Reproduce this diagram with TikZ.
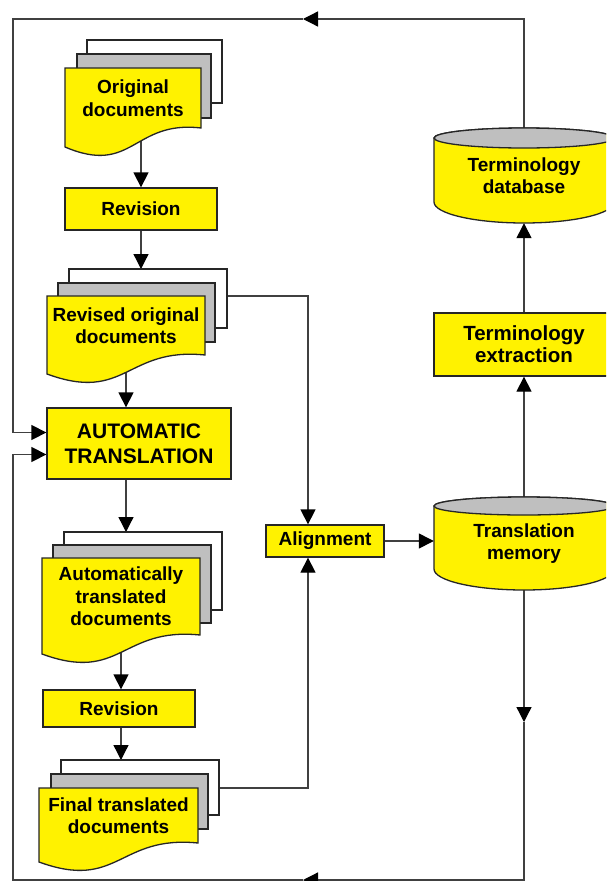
\documentclass[tikz,border=0pt]{standalone}
\usepackage{fontspec}
\setmainfont{Liberation Sans}
\usetikzlibrary{arrows.meta}

\pgfdeclarelayer{bg}
\pgfdeclarelayer{lines}
\pgfsetlayers{bg,lines,main}

\tikzset{
  outline/.style={draw=black!85, line width=1.3pt},
  txt/.style={font=\bfseries\fontsize{19}{22.5}\selectfont, align=center, inner sep=0pt},
  bigtxt/.style={font=\bfseries\fontsize{21}{25}\selectfont, align=center, inner sep=0pt},
  box/.style={outline, fill=yellow, txt},
  flow/.style={draw=black!75, line width=1.3pt},
  arr/.style={flow, -{Triangle[length=15pt,width=15pt,color=black]}}
}

\begin{document}
\begin{tikzpicture}[x=1pt, y=-1pt]
  \useasboundingbox (0,0) rectangle (606,881);
  \begin{pgfonlayer}{bg}
    \fill[white] (0,0) rectangle (606,881);
  \end{pgfonlayer}
  \clip (0,0) rectangle (606,881);

  \filldraw[outline, fill=white] (87,40) rectangle (222,103);
  \filldraw[outline, fill=gray!50] (77,54) rectangle (211,118);
  \filldraw[outline, fill=yellow] (65,68) -- (201,68) -- (201,128) .. controls (133,120) and (133,176) .. (65,147) -- cycle;
  \node[txt, minimum width=136, minimum height=60] (orig) at (133,98) {Original\\documents};

  \node[box, minimum width=152, minimum height=42] (rev1) at (141,209) {Revision};

  \filldraw[outline, fill=white] (69,269) rectangle (227,328);
  \filldraw[outline, fill=gray!50] (58,283) rectangle (215,342);
  \filldraw[outline, fill=yellow] (47,296) -- (205,296) -- (205,355) .. controls (126,347) and (126,403) .. (47,374) -- cycle;
  \node[txt, minimum width=158, minimum height=59] (revd) at (126,325.5) {Revised original\\documents};
  \coordinate (revd-top) at (148,269);
  \coordinate (revd-side) at (227,296);

  \node[box, bigtxt, minimum width=184, minimum height=71] (at) at (139,443.5) {AUTOMATIC\\TRANSLATION};

  \filldraw[outline, fill=white] (64,532) rectangle (222,610);
  \filldraw[outline, fill=gray!50] (53,545) rectangle (211,623);
  \filldraw[outline, fill=yellow] (42,558) -- (200,558) -- (200,635) .. controls (121,627) and (121,683) .. (42,654) -- cycle;
  \node[txt, minimum width=158, minimum height=77] (auto) at (121,596.5) {Automatically\\translated\\documents};
  \coordinate (auto-top) at (143,532);

  \node[box, minimum width=152, minimum height=37] (rev2) at (119,708.5) {Revision};

  \filldraw[outline, fill=white] (61,760) rectangle (219,815);
  \filldraw[outline, fill=gray!50] (51,774) rectangle (208,829);
  \filldraw[outline, fill=yellow] (39,788) -- (198,788) -- (198,843) .. controls (118.5,835) and (118.5,891) .. (39,862) -- cycle;
  \node[txt, minimum width=159, minimum height=55] (final) at (118.5,815.5) {Final translated\\documents};
  \coordinate (final-top) at (140,760);
  \coordinate (final-side) at (219,788);

  \node[box, minimum width=118, minimum height=32] (align) at (325,541) {Alignment};

  \filldraw[outline, fill=yellow] (434,138) -- (434,202) arc[start angle=180, end angle=0, x radius=90, y radius=21] -- (614,138) arc[start angle=0, end angle=-180, x radius=90, y radius=10] -- cycle;
  \filldraw[outline, fill=gray!50] (524,138) ellipse [x radius=90, y radius=10];
  \node[txt, minimum width=180, minimum height=95] (tdb) at (524,175.5) {Terminology\\database};

  \node[box, font=\bfseries\fontsize{20.5}{22}\selectfont, minimum width=180, minimum height=63] (ext) at (524,344.5) {Terminology\\extraction};

  \filldraw[outline, fill=yellow] (434,506) -- (434,569) arc[start angle=180, end angle=0, x radius=90, y radius=21] -- (614,506) arc[start angle=0, end angle=-180, x radius=90, y radius=9] -- cycle;
  \filldraw[outline, fill=gray!50] (524,506) ellipse [x radius=90, y radius=9];
  \node[txt, minimum width=180, minimum height=93] (tm) at (524,543.5) {Translation\\memory};

  \coordinate (toptip) at (303,19);
  \coordinate (lefttop) at (13,19);
  \coordinate (righttip) at (524,722);
  \coordinate (bottip) at (303,880);
  \coordinate (leftbot) at (13,880);

  \begin{pgfonlayer}{lines}
    \draw[arr] (rev1.north |- orig.south) -- (rev1.north);
    \draw[arr] (rev1.south) -- (rev1.south |- revd-top);
    \draw[arr] (revd.south) -- (revd.south |- at.north);
    \draw[arr] (revd.south |- at.south) -- (revd.south |- auto-top);
    \draw[arr] (auto.south) -- (auto.south |- rev2.north);
    \draw[arr] (auto.south |- rev2.south) -- (auto.south |- final-top);
    \draw[arr] (revd-side) -| ([xshift=-17]align.north);
    \draw[arr] (final-side) -| ([xshift=-17]align.south);
    \draw[arr] (align.east) -- (align.east -| tm.west);
    \draw[arr] (tm.north) -- (ext.south);
    \draw[arr] (ext.north) -- (tdb.south);
    \draw[arr] (tdb.north) |- (toptip);
    \draw[arr] (toptip) -- (lefttop) |- ([yshift=11]at.west);
    \draw[arr] (tm.south) -- (righttip);
    \draw[arr] (righttip) |- (bottip);
    \draw[arr] (bottip) -- (leftbot) |- ([yshift=-11]at.west);
  \end{pgfonlayer}
\end{tikzpicture}
\end{document}
